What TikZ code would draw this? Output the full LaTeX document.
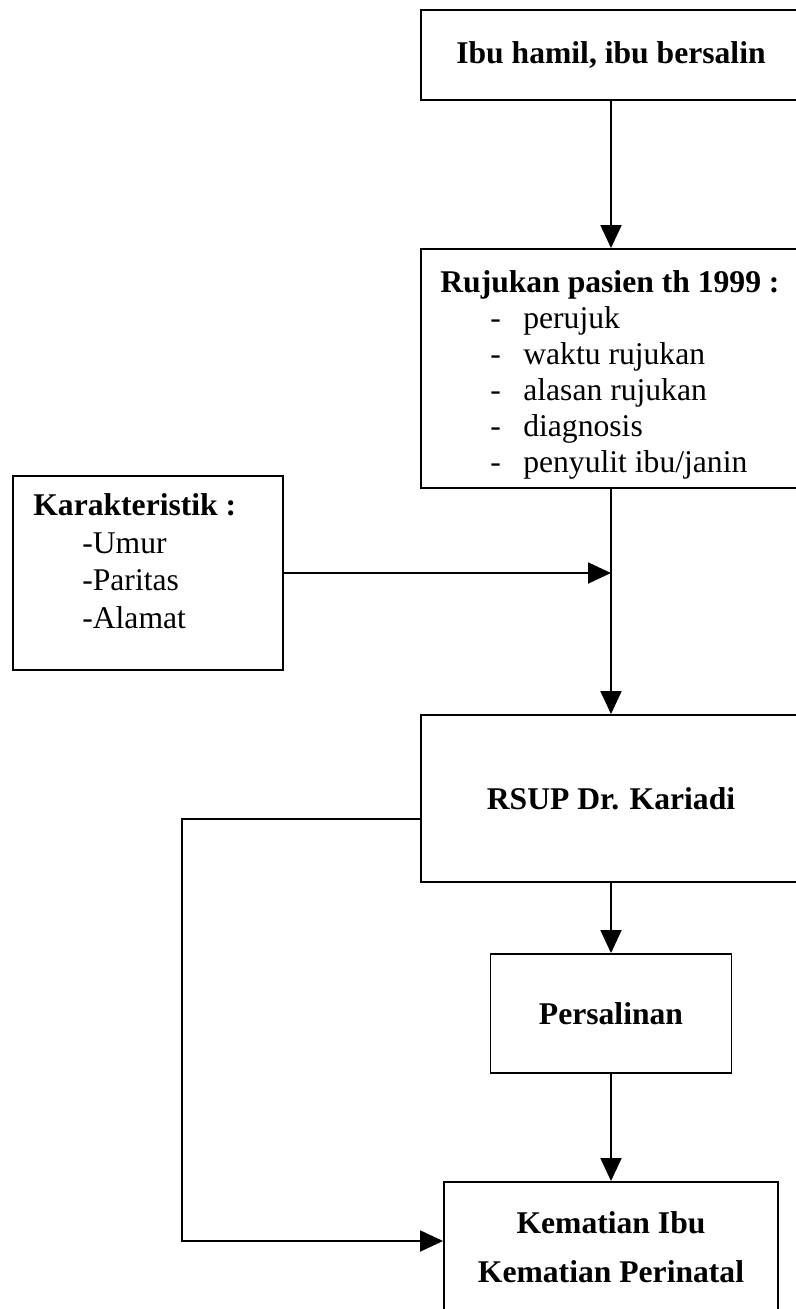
\documentclass[tikz,border=0pt]{standalone}
\usepackage{fontspec}
\setmainfont{Liberation Serif}
\usetikzlibrary{arrows.meta}
\tikzset{
  box/.style={draw, rectangle, line width=1.1pt, inner sep=0pt},
  arr/.style={line width=1.1pt, -{Triangle[length=0.46cm,width=0.42cm]}},
  head/.style={font=\fontsize{18}{20}\selectfont\bfseries},
  list/.style={anchor=north west, inner sep=0pt, align=left}
}
\newcommand{\rujitem}[1]{\hspace*{1cm}\makebox[0.66cm][l]{-}#1}
\newcommand{\karitem}[1]{\hspace*{0.98cm}-#1}

\begin{document}
\begin{tikzpicture}[x=0.02cm, y=-0.02cm]
\useasboundingbox (0,0) rectangle (795,1309);

% boxes on the main line
\node [box, head, minimum width=7.6cm, minimum height=1.8cm] (ibu) at (611,55) {Ibu hamil, ibu bersalin};
\node [box, minimum width=7.6cm, minimum height=4.78cm] (ruj) at (611,368.5) {};
\node [list, font=\fontsize{18}{20.5}\selectfont] (rujtxt) at (440,270)
  {\textbf{Rujukan pasien th 1999 :}\\
   \rujitem{perujuk}\\
   \rujitem{waktu rujukan}\\
   \rujitem{alasan rujukan}\\
   \rujitem{diagnosis}\\
   \rujitem{penyulit ibu/janin}};
\node [box, head, minimum width=7.6cm, minimum height=3.34cm] (rsup) at (611,798.5) {RSUP Dr. Kariadi};
\node [box, head, minimum width=4.82cm, minimum height=2.38cm] (pers) at (611,1013.5) {Persalinan};
\node [box, minimum width=6.68cm, minimum height=2.6cm, align=center,
       font=\fontsize{18}{28}\selectfont\bfseries] (kem) at (611,1247)
  {Kematian Ibu\\ Kematian Perinatal};

% side box
\node [box, minimum width=5.4cm, minimum height=3.88cm] (kar) at (148,573) {};
\node [list, font=\fontsize{18}{21.5}\selectfont] (kartxt) at (33,493)
  {\textbf{Karakteristik :}\\
   \karitem{Umur}\\
   \karitem{Paritas}\\
   \karitem{Alamat}};

\coordinate (lptop) at (182,819);
\coordinate (lpbot) at (182,1241);

% connectors
\draw [arr] (ibu) -- (ruj);
\draw [arr] (ruj) -- (rsup);
\draw [arr] (kar.east) -- (kar.east -| ruj.south);
\draw [arr] (rsup) -- (pers);
\draw [arr] (pers) -- (kem);
\draw [arr] (rsup.west |- lptop) -- (lptop) -- (lpbot) -- (kem.west |- lpbot);
\end{tikzpicture}
\end{document}
